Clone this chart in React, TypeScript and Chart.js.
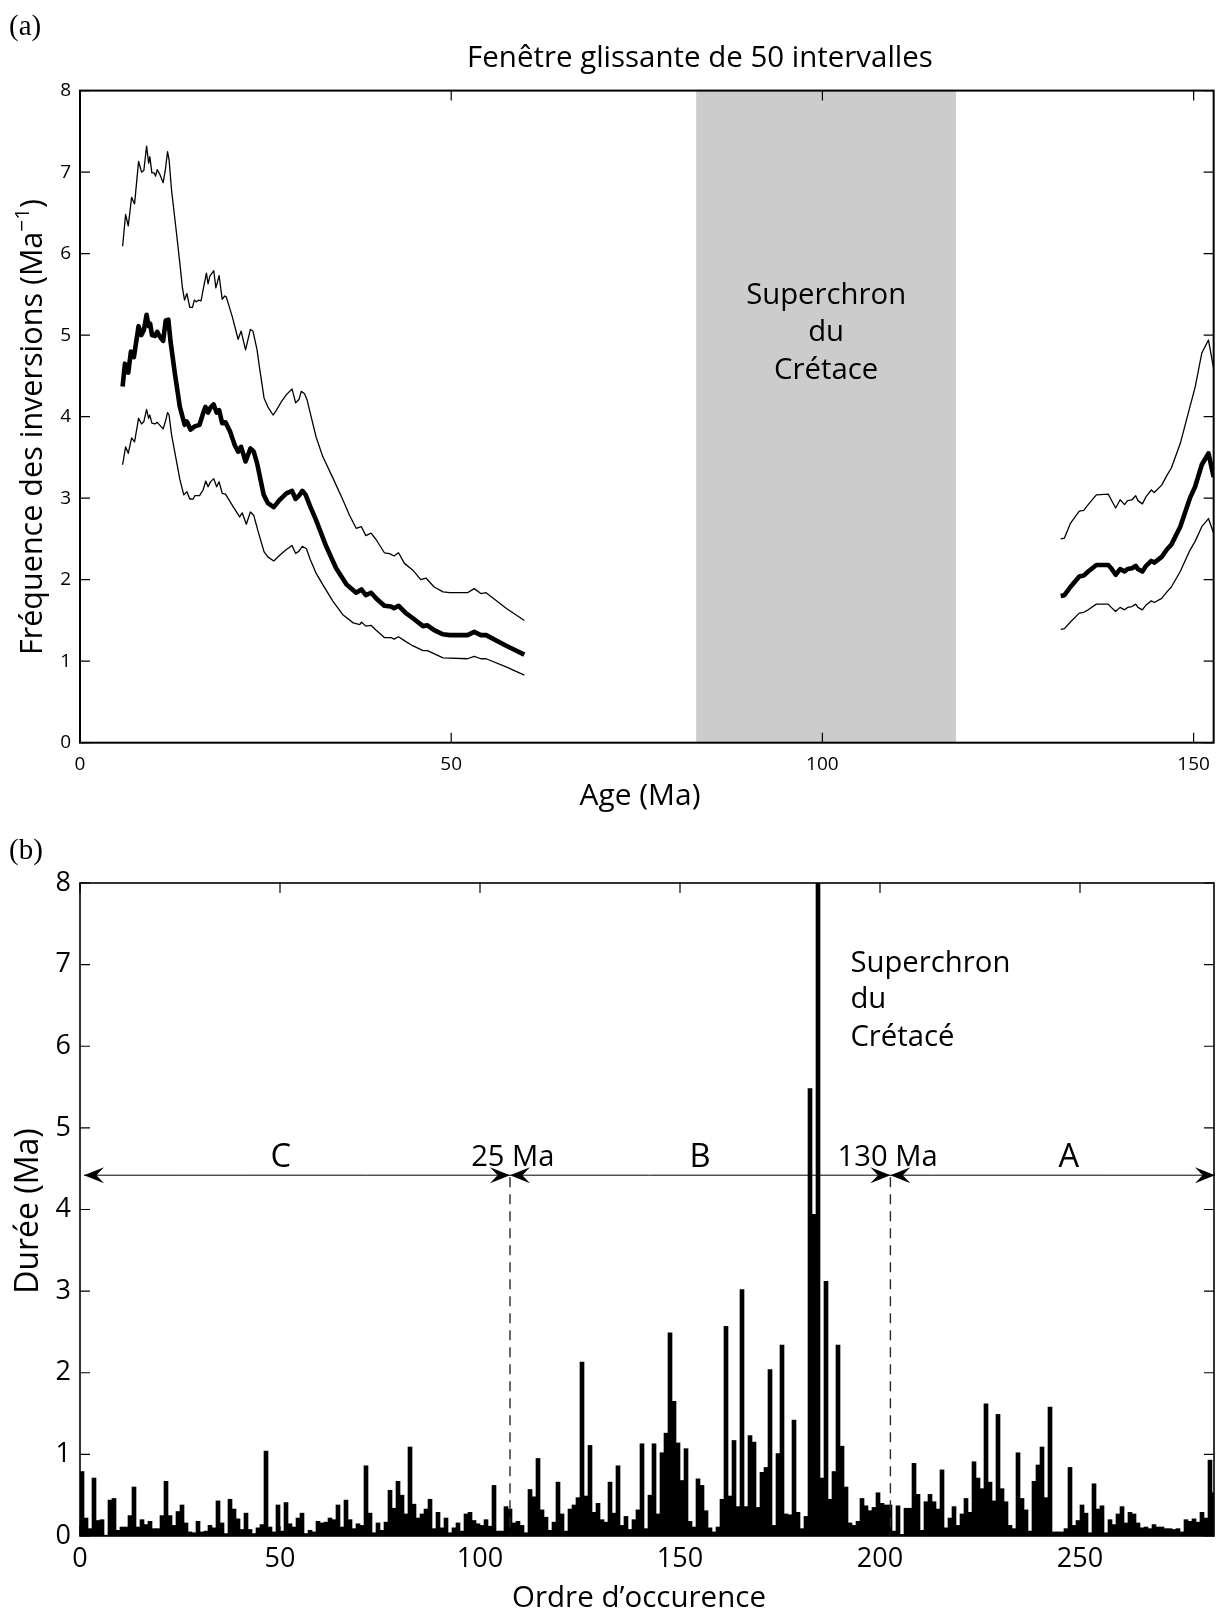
import React, { useEffect, useRef } from 'react';
import { Chart, registerables } from 'chart.js';

Chart.register(...registerables);

const SANS = '"Open Sans", "Noto Sans", sans-serif';
const SERIF = '"Liberation Serif", "DejaVu Serif", serif';

// ---------- Panel (a): sliding window of 50 intervals ----------
const youngUpperAge = [5.74, 6.14, 6.5, 6.95, 7.35, 7.89, 8.29, 8.6, 8.97, 9.24, 9.4, 9.68, 10.0, 10.18, 10.4, 10.76, 11.2, 11.5, 11.79, 12.0, 12.33, 13.0, 13.45, 13.8, 14.08, 14.4, 14.79, 15.15, 15.4, 15.67, 16.0, 16.3, 16.68, 17.03, 17.25, 17.48, 18.02, 18.3, 18.74, 19.15, 19.5, 19.7, 20.5, 21.3, 21.7, 22.3, 22.95, 23.3, 23.85, 24.2, 24.79, 25.3, 26.0, 26.4, 27.1, 27.8, 28.56, 29.05, 29.5, 29.8, 30.25, 30.6, 31.0, 31.8, 32.7, 34.1, 35.4, 36.3, 37.2, 37.9, 38.5, 39.2, 39.9, 41.0, 41.7, 42.3, 42.9, 43.7, 44.8, 45.9, 46.6, 47.7, 48.9, 49.8, 51.1, 52.2, 53.1, 54.0, 54.7, 57.4, 59.85];
const youngUpper = [6.09, 6.48, 6.34, 6.69, 6.61, 7.13, 7.0, 7.02, 7.32, 7.11, 7.19, 6.99, 6.99, 6.95, 7.03, 6.97, 6.87, 7.03, 7.25, 7.15, 6.78, 6.25, 5.88, 5.58, 5.43, 5.51, 5.34, 5.34, 5.43, 5.41, 5.43, 5.42, 5.6, 5.76, 5.63, 5.72, 5.79, 5.58, 5.73, 5.44, 5.48, 5.47, 5.23, 4.95, 5.05, 4.82, 5.07, 5.05, 4.82, 4.59, 4.23, 4.12, 4.02, 4.07, 4.18, 4.27, 4.34, 4.17, 4.21, 4.31, 4.28, 4.2, 4.05, 3.75, 3.51, 3.24, 2.98, 2.79, 2.63, 2.65, 2.54, 2.57, 2.49, 2.33, 2.32, 2.29, 2.33, 2.2, 2.12, 2.0, 2.02, 1.91, 1.85, 1.84, 1.84, 1.84, 1.89, 1.83, 1.84, 1.65, 1.5];

const youngMeanAge = [5.74, 6.05, 6.5, 6.86, 7.26, 7.89, 8.25, 8.6, 8.97, 9.24, 9.45, 9.7, 10.1, 10.4, 10.76, 11.2, 11.55, 11.9, 12.2, 12.78, 13.45, 14.1, 14.4, 14.88, 15.46, 16.1, 16.58, 16.9, 17.25, 17.57, 18.0, 18.4, 18.74, 19.15, 19.6, 20.2, 20.85, 21.3, 21.7, 22.3, 22.95, 23.4, 23.85, 24.75, 25.3, 26.1, 26.9, 27.8, 28.56, 29.05, 29.5, 29.95, 30.4, 31.0, 31.8, 33.2, 34.5, 35.9, 37.2, 37.9, 38.5, 39.2, 39.9, 41.0, 41.9, 42.3, 42.9, 43.9, 44.8, 46.2, 46.8, 47.7, 48.9, 49.8, 52.2, 53.1, 54.0, 54.7, 57.4, 59.85];
const youngMean = [4.37, 4.65, 4.54, 4.8, 4.73, 5.11, 5.0, 5.06, 5.25, 5.11, 5.14, 5.0, 4.99, 5.04, 4.98, 4.93, 5.18, 5.19, 4.92, 4.53, 4.12, 3.9, 3.94, 3.84, 3.88, 3.9, 4.04, 4.12, 4.05, 4.11, 4.15, 4.05, 4.08, 3.92, 3.93, 3.82, 3.65, 3.57, 3.63, 3.45, 3.61, 3.57, 3.43, 3.04, 2.94, 2.89, 2.98, 3.06, 3.09, 2.99, 3.03, 3.09, 3.04, 2.9, 2.73, 2.4, 2.14, 1.94, 1.84, 1.88, 1.81, 1.84, 1.77, 1.68, 1.67, 1.65, 1.68, 1.59, 1.53, 1.43, 1.44, 1.38, 1.33, 1.32, 1.32, 1.36, 1.32, 1.32, 1.19, 1.08];

const youngLowerAge = [5.74, 6.14, 6.5, 6.95, 7.35, 7.89, 8.29, 8.6, 8.97, 9.24, 9.4, 9.68, 10.1, 10.4, 11.2, 11.5, 11.79, 12.0, 12.33, 13.0, 13.45, 13.98, 14.4, 14.79, 15.24, 15.46, 16.1, 16.58, 16.94, 17.25, 17.57, 18.02, 18.4, 18.74, 19.15, 19.6, 20.6, 21.5, 21.85, 22.4, 22.95, 23.4, 24.0, 24.8, 25.3, 26.1, 26.9, 27.8, 28.56, 29.05, 29.5, 29.95, 30.5, 31.0, 31.8, 32.7, 34.1, 35.4, 36.8, 37.7, 37.9, 38.5, 39.2, 39.9, 41.0, 41.9, 42.3, 42.9, 43.9, 44.8, 46.2, 46.8, 48.9, 52.2, 53.1, 54.0, 54.7, 57.4, 59.85];
const youngLower = [3.41, 3.63, 3.55, 3.74, 3.69, 3.98, 3.91, 3.94, 4.09, 3.98, 4.02, 3.92, 3.91, 3.93, 3.85, 3.94, 4.05, 4.02, 3.78, 3.45, 3.23, 3.04, 3.08, 2.99, 2.99, 3.03, 3.03, 3.1, 3.21, 3.14, 3.2, 3.24, 3.14, 3.2, 3.06, 3.05, 2.9, 2.77, 2.82, 2.68, 2.83, 2.79, 2.59, 2.34, 2.28, 2.23, 2.3, 2.37, 2.42, 2.32, 2.35, 2.41, 2.38, 2.25, 2.08, 1.94, 1.73, 1.57, 1.47, 1.45, 1.48, 1.43, 1.44, 1.38, 1.29, 1.29, 1.27, 1.3, 1.24, 1.19, 1.13, 1.13, 1.04, 1.03, 1.06, 1.03, 1.03, 0.93, 0.83];

const oldAge = [132.1, 132.6, 133.4, 134.6, 135.2, 135.8, 136.9, 138.5, 138.9, 139.5, 140.1, 140.7, 141.1, 141.7, 142.2, 142.5, 143.1, 143.6, 144.3, 144.7, 145.7, 146.4, 147.0, 148.2, 149.5, 150.2, 151.1, 152.0, 152.7];
const oldUpper = [2.5, 2.51, 2.69, 2.84, 2.85, 2.92, 3.04, 3.05, 2.98, 2.88, 2.98, 2.92, 2.97, 2.98, 3.03, 2.97, 2.93, 3.02, 3.1, 3.07, 3.16, 3.28, 3.37, 3.67, 4.12, 4.36, 4.78, 4.94, 4.59];
const oldMean = [1.8, 1.81, 1.91, 2.04, 2.05, 2.1, 2.18, 2.18, 2.14, 2.06, 2.13, 2.1, 2.13, 2.14, 2.17, 2.13, 2.1, 2.17, 2.23, 2.21, 2.28, 2.37, 2.43, 2.65, 3.0, 3.14, 3.41, 3.55, 3.26];
const oldLower = [1.39, 1.4, 1.48, 1.59, 1.6, 1.63, 1.7, 1.7, 1.66, 1.61, 1.66, 1.63, 1.66, 1.67, 1.7, 1.66, 1.63, 1.69, 1.74, 1.72, 1.77, 1.85, 1.91, 2.1, 2.36, 2.47, 2.65, 2.75, 2.57];

const superchronStart = 83;
const superchronEnd = 118;
const ageMax = 152.7;
const ageTicks = [0, 50, 100, 150];
const freqTicks = [0, 1, 2, 3, 4, 5, 6, 7, 8];

// ---------- Panel (b): durations in order of occurrence ----------
const durations = [
  0.79, 0.22, 0.09, 0.71, 0.19, 0.20, 0.01, 0.44, 0.46, 0.07,
  0.11, 0.11, 0.25, 0.60, 0.11, 0.20, 0.14, 0.18, 0.09, 0.09,
  0.25, 0.67, 0.25, 0.13, 0.30, 0.38, 0.16, 0.05, 0.04, 0.18,
  0.05, 0.06, 0.13, 0.10, 0.43, 0.16, 0.03, 0.45, 0.33, 0.21,
  0.08, 0.28, 0.08, 0.03, 0.10, 0.14, 1.04, 0.11, 0.05, 0.38,
  0.06, 0.41, 0.15, 0.11, 0.22, 0.28, 0.03, 0.07, 0.05, 0.18,
  0.16, 0.17, 0.22, 0.20, 0.38, 0.11, 0.44, 0.20, 0.09, 0.15,
  0.13, 0.86, 0.28, 0.04, 0.16, 0.07, 0.17, 0.56, 0.34, 0.67,
  0.50, 0.27, 1.09, 0.39, 0.22, 0.27, 0.33, 0.45, 0.09, 0.29,
  0.10, 0.22, 0.04, 0.10, 0.16, 0.06, 0.27, 0.29, 0.19, 0.15,
  0.13, 0.20, 0.12, 0.62, 0.06, 0.06, 0.36, 0.33, 0.16, 0.18,
  0.13, 0.04, 0.57, 0.48, 0.95, 0.32, 0.23, 0.07, 0.17, 0.66,
  0.27, 0.06, 0.33, 0.38, 0.47, 2.13, 0.49, 1.11, 0.29, 0.40,
  0.20, 0.17, 0.66, 0.28, 0.86, 0.13, 0.24, 0.08, 0.20, 0.32,
  1.13, 0.09, 0.50, 1.13, 0.27, 1.02, 1.26, 2.49, 1.65, 1.14,
  0.68, 1.07, 0.18, 0.11, 0.70, 0.62, 0.31, 0.10, 0.05, 0.11,
  0.45, 2.57, 0.49, 1.17, 0.36, 3.02, 0.36, 1.23, 1.15, 0.35,
  0.78, 0.84, 2.04, 0.13, 1.01, 2.34, 0.27, 0.26, 1.42, 0.29,
  0.09, 0.24, 5.48, 3.94, 37.0, 0.71, 3.12, 0.45, 0.79, 2.34,
  1.10, 0.60, 0.16, 0.13, 0.18, 0.46, 0.37, 0.31, 0.35, 0.53,
  0.40, 0.38, 0.38, 0.06, 0.37, 0.02, 0.34, 0.34, 0.89, 0.51,
  0.07, 0.42, 0.51, 0.42, 0.33, 0.81, 0.10, 0.22, 0.36, 0.13,
  0.27, 0.46, 0.29, 0.91, 0.71, 0.58, 1.62, 0.66, 0.43, 1.49,
  0.58, 0.42, 0.13, 0.09, 1.02, 0.46, 0.32, 0.06, 0.67, 0.87,
  1.09, 0.47, 1.58, 0.05, 0.05, 0.05, 0.09, 0.84, 0.13, 0.19,
  0.38, 0.28, 0.04, 0.64, 0.33, 0.37, 0.04, 0.20, 0.14, 0.27,
  0.36, 0.16, 0.29, 0.27, 0.16, 0.10, 0.11, 0.09, 0.14, 0.11,
  0.11, 0.09, 0.09, 0.08, 0.09, 0.05, 0.20, 0.18, 0.21, 0.17,
  0.29, 0.22, 0.93, 0.53,
];
const orderMax = 283.5;
const orderTicks = [0, 50, 100, 150, 200, 250];
const durationTicks = [0, 1, 2, 3, 4, 5, 6, 7, 8];
const boundary25Ma = 107.5;
const boundary130Ma = 202.6;
const arrowLevel = 4.42;
const periodLabels = [
  { text: 'C', x: 50.2, size: 'big' },
  { text: '25 Ma', x: 108.2, size: 'small' },
  { text: 'B', x: 155, size: 'big' },
  { text: '130 Ma', x: 201.9, size: 'small' },
  { text: 'A', x: 247.2, size: 'big' },
];

// ---------- helpers ----------
function fitFont(ctx: CanvasRenderingContext2D, text: string, width: number, family: string) {
  ctx.font = `100px ${family}`;
  const w = ctx.measureText(text).width;
  return (100 * width) / w;
}

function drawBoxAndTicks(chart: any, lw: number, tickLen: number) {
  const { ctx, chartArea: a, scales } = chart;
  ctx.save();
  ctx.strokeStyle = '#000';
  ctx.lineWidth = 1.2;
  ctx.beginPath();
  for (const t of scales.x.ticks) {
    const px = scales.x.getPixelForValue(t.value);
    ctx.moveTo(px, a.bottom);
    ctx.lineTo(px, a.bottom - tickLen);
    ctx.moveTo(px, a.top);
    ctx.lineTo(px, a.top + tickLen);
  }
  for (const t of scales.y.ticks) {
    const py = scales.y.getPixelForValue(t.value);
    ctx.moveTo(a.left, py);
    ctx.lineTo(a.left + tickLen, py);
    ctx.moveTo(a.right, py);
    ctx.lineTo(a.right - tickLen, py);
  }
  ctx.stroke();
  ctx.lineWidth = lw;
  ctx.strokeRect(a.left, a.top, a.right - a.left, a.bottom - a.top);
  ctx.restore();
}

function drawArrowHead(ctx: CanvasRenderingContext2D, tipX: number, y: number, dir: number) {
  const L = 20;
  const H = 8;
  ctx.beginPath();
  ctx.moveTo(tipX, y);
  ctx.lineTo(tipX - dir * L, y - H);
  ctx.lineTo(tipX - dir * L * 0.62, y);
  ctx.lineTo(tipX - dir * L, y + H);
  ctx.closePath();
  ctx.fill();
}

const pts = (ages: number[], vals: number[]) => ages.map((a, i) => ({ x: a, y: vals[i] as number | null }));
const joined = (yA: number[], yV: number[], oA: number[], oV: number[]) => [
  ...pts(yA, yV),
  { x: (yA[yA.length - 1] + oA[0]) / 2, y: null },
  ...pts(oA, oV),
];

const panelAPlugin = {
  id: 'panelA',
  beforeDatasetsDraw(chart: any) {
    const { ctx, chartArea: a, scales } = chart;
    const x0 = scales.x.getPixelForValue(superchronStart);
    const x1 = scales.x.getPixelForValue(superchronEnd);
    ctx.save();
    ctx.fillStyle = '#cccccc';
    ctx.fillRect(x0, a.top, x1 - x0, a.bottom - a.top);
    const size = fitFont(ctx, 'Superchron', 160, SANS);
    ctx.font = `${size}px ${SANS}`;
    ctx.fillStyle = '#000';
    ctx.textAlign = 'center';
    ctx.textBaseline = 'middle';
    const cx = scales.x.getPixelForValue((superchronStart + superchronEnd) / 2);
    ctx.fillText('Superchron', cx, scales.y.getPixelForValue(5.49));
    ctx.fillText('du', cx, scales.y.getPixelForValue(5.03));
    ctx.fillText('Crétace', cx, scales.y.getPixelForValue(4.57));
    ctx.restore();
  },
  afterDraw(chart: any) {
    const { ctx } = chart;
    drawBoxAndTicks(chart, 2, 10);
    ctx.save();
    ctx.fillStyle = '#000';
    ctx.textAlign = 'center';
    ctx.textBaseline = 'middle';
    // title
    let s = fitFont(ctx, 'Fenêtre glissante de 50 intervalles', 466, SANS);
    ctx.font = `${s}px ${SANS}`;
    ctx.fillText('Fenêtre glissante de 50 intervalles', 700, 59);
    // x title
    s = fitFont(ctx, 'Age (Ma)', 121, SANS);
    ctx.font = `${s}px ${SANS}`;
    ctx.fillText('Age (Ma)', 640, 796);
    // y title with superscript
    const main = 'Fréquence des inversions (Ma';
    const sup = '−1';
    const close = ')';
    s = fitFont(ctx, main + '1)', 450, SANS);
    ctx.font = `${s}px ${SANS}`;
    const wMain = ctx.measureText(main).width;
    const wClose = ctx.measureText(close).width;
    ctx.font = `${s * 0.68}px ${SANS}`;
    const wSup = ctx.measureText(sup).width;
    const total = wMain + wSup + wClose;
    ctx.translate(31, 427);
    ctx.rotate(-Math.PI / 2);
    ctx.textAlign = 'left';
    ctx.textBaseline = 'alphabetic';
    const base = s * 0.36;
    ctx.font = `${s}px ${SANS}`;
    ctx.fillText(main, -total / 2, base);
    ctx.font = `${s * 0.68}px ${SANS}`;
    ctx.fillText(sup, -total / 2 + wMain, base - s * 0.42);
    ctx.font = `${s}px ${SANS}`;
    ctx.fillText(close, -total / 2 + wMain + wSup, base);
    ctx.restore();
    // (a)
    ctx.save();
    ctx.fillStyle = '#000';
    ctx.font = `29px ${SERIF}`;
    ctx.textBaseline = 'middle';
    ctx.textAlign = 'left';
    ctx.fillText('(a)', 9, 27);
    ctx.restore();
  },
};

const panelBPlugin = {
  id: 'panelB',
  afterDatasetsDraw(chart: any) {
    const { ctx, chartArea: a, scales } = chart;
    const yA = scales.y.getPixelForValue(arrowLevel);
    const xb1 = scales.x.getPixelForValue(boundary25Ma);
    const xb2 = scales.x.getPixelForValue(boundary130Ma);
    ctx.save();
    // dashed boundaries
    ctx.strokeStyle = '#2a2a2a';
    ctx.lineWidth = 1.4;
    ctx.setLineDash([10, 7]);
    ctx.beginPath();
    ctx.moveTo(xb1, yA + 2);
    ctx.lineTo(xb1, a.bottom);
    ctx.moveTo(xb2, yA + 2);
    ctx.lineTo(xb2, a.bottom);
    ctx.stroke();
    ctx.setLineDash([]);
    // arrow line
    const xl = scales.x.getPixelForValue(1);
    const xr = a.right + 1;
    ctx.strokeStyle = '#000';
    ctx.lineWidth = 1;
    ctx.beginPath();
    ctx.moveTo(xl, yA);
    ctx.lineTo(xr, yA);
    ctx.stroke();
    ctx.fillStyle = '#000';
    drawArrowHead(ctx, xl, yA, -1);
    drawArrowHead(ctx, xb1, yA, 1);
    drawArrowHead(ctx, xb1, yA, -1);
    drawArrowHead(ctx, xb2, yA, 1);
    drawArrowHead(ctx, xb2, yA, -1);
    drawArrowHead(ctx, xr, yA, 1);
    // labels
    const small = fitFont(ctx, '130 Ma', 100, SANS);
    const big = small * 1.12;
    ctx.textAlign = 'center';
    ctx.textBaseline = 'middle';
    const yLab = scales.y.getPixelForValue(4.63);
    for (const l of periodLabels) {
      ctx.font = `${l.size === 'big' ? big : small}px ${SANS}`;
      ctx.fillText(l.text, scales.x.getPixelForValue(l.x), yLab);
    }
    // superchron label
    const s = fitFont(ctx, 'Superchron', 160, SANS);
    ctx.font = `${s}px ${SANS}`;
    ctx.textAlign = 'left';
    const sx = scales.x.getPixelForValue(192.6);
    ctx.fillText('Superchron', sx, scales.y.getPixelForValue(7.01));
    ctx.fillText('du', sx, scales.y.getPixelForValue(6.57));
    ctx.fillText('Crétacé', sx, scales.y.getPixelForValue(6.1));
    ctx.restore();
  },
  afterDraw(chart: any) {
    const { ctx } = chart;
    drawBoxAndTicks(chart, 1.6, 10);
    ctx.save();
    ctx.fillStyle = '#000';
    ctx.textAlign = 'center';
    ctx.textBaseline = 'middle';
    const s = fitFont(ctx, 'Ordre d’occurence', 254, SANS);
    ctx.font = `${s}px ${SANS}`;
    ctx.fillText('Ordre d’occurence', 639, 779);
    ctx.font = `32px ${SANS}`;
    ctx.translate(29, 391);
    ctx.rotate(-Math.PI / 2);
    ctx.fillText('Durée (Ma)', 0, 0);
    ctx.restore();
    ctx.save();
    ctx.fillStyle = '#000';
    ctx.font = `29px ${SERIF}`;
    ctx.textBaseline = 'middle';
    ctx.textAlign = 'left';
    ctx.fillText('(b)', 9, 31);
    ctx.restore();
  },
};

export default function App() {
  const refA = useRef<HTMLCanvasElement>(null);
  const refB = useRef<HTMLCanvasElement>(null);

  useEffect(() => {
    document.body.style.margin = '0';
    const lineDs = (data: any[], w: number) => ({
      data,
      borderColor: '#000',
      borderWidth: w,
      pointRadius: 0,
      tension: 0,
      spanGaps: false,
      borderJoinStyle: 'round' as const,
      fill: false,
    });
    const chartA = new Chart(refA.current!, {
      type: 'line',
      data: {
        datasets: [
          lineDs(joined(youngUpperAge, youngUpper, oldAge, oldUpper), 1.3),
          lineDs(joined(youngLowerAge, youngLower, oldAge, oldLower), 1.3),
          lineDs(joined(youngMeanAge, youngMean, oldAge, oldMean), 4.6),
        ],
      },
      options: {
        animation: false,
        responsive: false,
        devicePixelRatio: 1,
        layout: { padding: { top: 90.6, right: 5, left: 0, bottom: 0 } },
        plugins: { legend: { display: false }, tooltip: { enabled: false } },
        scales: {
          x: {
            type: 'linear',
            min: 0,
            max: ageMax,
            afterBuildTicks: (s: any) => { s.ticks = ageTicks.map((v) => ({ value: v })); },
            grid: { display: false, drawTicks: false },
            border: { display: false },
            ticks: { color: '#000', font: { family: SANS, size: 19 }, padding: 10, maxRotation: 0, autoSkip: false },
            afterFit: (s: any) => { s.height = 820 - 742.7; },
          },
          y: {
            type: 'linear',
            min: 0,
            max: 8,
            afterBuildTicks: (s: any) => { s.ticks = freqTicks.map((v) => ({ value: v })); },
            grid: { display: false, drawTicks: false },
            border: { display: false },
            ticks: { color: '#000', font: { family: SANS, size: 19 }, padding: 9, autoSkip: false },
            afterFit: (s: any) => { s.width = 80; },
          },
        },
      },
      plugins: [panelAPlugin],
    } as any);

    const chartB = new Chart(refB.current!, {
      type: 'bar',
      data: {
        datasets: [
          {
            data: durations.map((d, i) => ({ x: i + 0.5, y: d })),
            backgroundColor: '#000',
            borderWidth: 0,
            barPercentage: 1,
            categoryPercentage: 1,
          },
        ],
      },
      options: {
        animation: false,
        responsive: false,
        devicePixelRatio: 1,
        layout: { padding: { top: 63, right: 6, left: 0, bottom: 0 } },
        plugins: { legend: { display: false }, tooltip: { enabled: false } },
        scales: {
          x: {
            type: 'linear',
            min: 0,
            max: orderMax,
            offset: false,
            afterBuildTicks: (s: any) => { s.ticks = orderTicks.map((v) => ({ value: v })); },
            grid: { display: false, drawTicks: false },
            border: { display: false },
            ticks: { color: '#000', font: { family: SANS, size: 27 }, padding: 7, maxRotation: 0, autoSkip: false },
            afterFit: (s: any) => { s.height = 794 - 716; },
          },
          y: {
            type: 'linear',
            min: 0,
            max: 8,
            afterBuildTicks: (s: any) => { s.ticks = durationTicks.map((v) => ({ value: v })); },
            grid: { display: false, drawTicks: false },
            border: { display: false },
            ticks: { color: '#000', font: { family: SANS, size: 27 }, padding: 9, autoSkip: false },
            afterFit: (s: any) => { s.width = 80; },
          },
        },
      },
      plugins: [panelBPlugin],
    } as any);

    return () => {
      chartA.destroy();
      chartB.destroy();
    };
  }, []);

  return (
    <div style={{ position: 'relative', width: 1220, height: 1614, background: '#fff', overflow: 'hidden' }}>
      <canvas ref={refA} width={1220} height={820} style={{ position: 'absolute', left: 0, top: 0, width: 1220, height: 820 }} />
      <canvas ref={refB} width={1220} height={794} style={{ position: 'absolute', left: 0, top: 820, width: 1220, height: 794 }} />
    </div>
  );
}
